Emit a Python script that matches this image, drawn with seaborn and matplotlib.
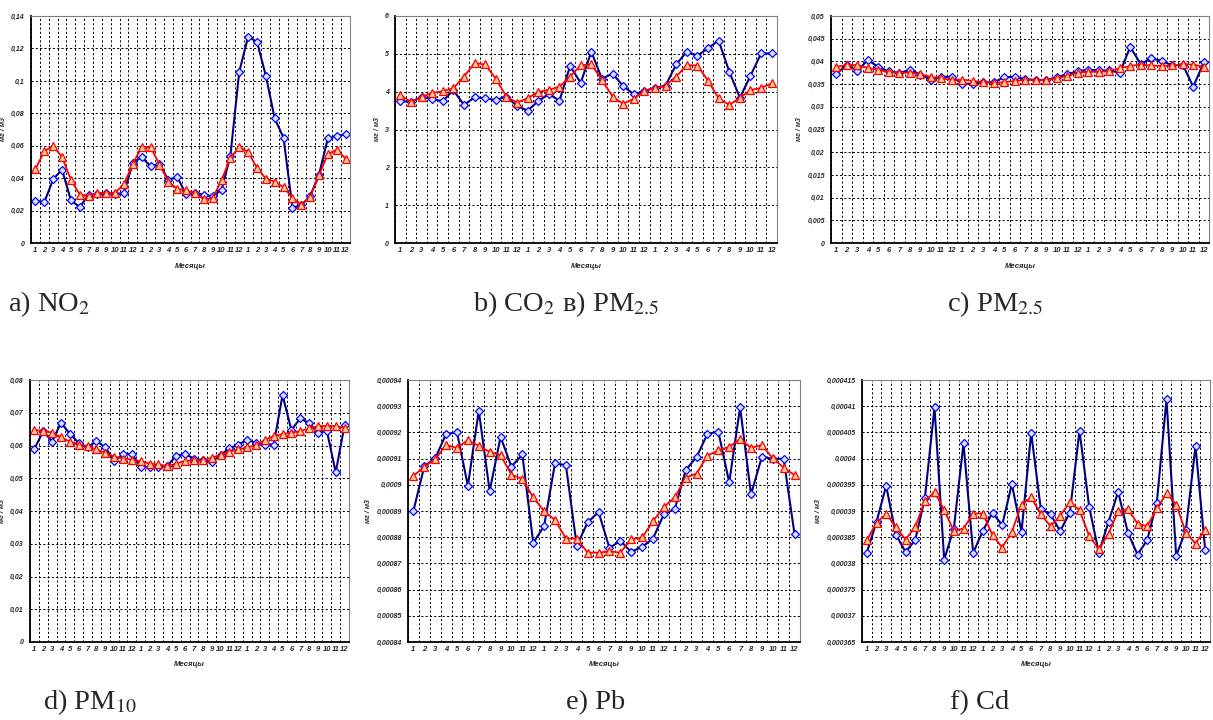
import matplotlib
matplotlib.use("Agg")
import matplotlib.pyplot as plt
import seaborn as sns
import numpy as np
import pandas as pd
from matplotlib.ticker import FuncFormatter

# month labels along the x axis (three years)
months = [str(m) for m in range(1, 13)] * 3

# measured (blue) and smoothed (red) concentrations, mg/m3
no2_obs = [0.0261, 0.0251, 0.0393, 0.0453, 0.0264, 0.0222, 0.0296, 0.0300, 0.0310, 0.0300, 0.0310, 0.0496,
           0.0529, 0.0474, 0.0486, 0.0390, 0.0408, 0.0300, 0.0310, 0.0296, 0.0288, 0.0327, 0.0537, 0.1056,
           0.1272, 0.1241, 0.1033, 0.0768, 0.0649, 0.0218, 0.0233, 0.0288, 0.0422, 0.0645, 0.0660, 0.0670]
no2_fit = [0.0455, 0.0566, 0.0599, 0.0531, 0.0389, 0.0299, 0.0288, 0.0309, 0.0309, 0.0309, 0.0364, 0.0490,
           0.0593, 0.0591, 0.0484, 0.0379, 0.0334, 0.0325, 0.0309, 0.0270, 0.0276, 0.0387, 0.0525, 0.0593,
           0.0562, 0.0463, 0.0397, 0.0379, 0.0344, 0.0280, 0.0237, 0.0284, 0.0418, 0.0548, 0.0576, 0.0521]

co2_obs = [3.75, 3.73, 3.86, 3.80, 3.75, 4.04, 3.65, 3.85, 3.82, 3.78, 3.87, 3.62,
           3.50, 3.75, 3.94, 3.76, 4.68, 4.23, 5.06, 4.34, 4.48, 4.15, 3.93, 4.02,
           4.10, 4.16, 4.72, 5.06, 4.95, 5.15, 5.35, 4.53, 3.84, 4.42, 5.01, 5.01]
co2_fit = [3.91, 3.73, 3.86, 3.97, 4.01, 4.09, 4.40, 4.75, 4.72, 4.34, 3.87, 3.71,
           3.83, 3.99, 4.05, 4.13, 4.40, 4.70, 4.72, 4.31, 3.87, 3.68, 3.81, 4.02,
           4.10, 4.16, 4.40, 4.70, 4.69, 4.29, 3.82, 3.65, 3.84, 4.04, 4.10, 4.22]

pm25_obs = [0.0372, 0.0393, 0.0379, 0.0403, 0.0388, 0.0378, 0.0374, 0.0382, 0.0371, 0.0360, 0.0366, 0.0366,
            0.0351, 0.0351, 0.0354, 0.0354, 0.0365, 0.0366, 0.0361, 0.0359, 0.0359, 0.0365, 0.0372, 0.0378,
            0.0382, 0.0380, 0.0380, 0.0375, 0.0432, 0.0394, 0.0407, 0.0401, 0.0391, 0.0393, 0.0344, 0.0398]
pm25_fit = [0.0388, 0.0392, 0.0392, 0.0386, 0.0381, 0.0377, 0.0375, 0.0375, 0.0372, 0.0366, 0.0363, 0.0359,
            0.0360, 0.0357, 0.0354, 0.0353, 0.0354, 0.0357, 0.0359, 0.0359, 0.0359, 0.0363, 0.0368, 0.0375,
            0.0377, 0.0377, 0.0379, 0.0385, 0.0390, 0.0393, 0.0391, 0.0390, 0.0391, 0.0394, 0.0393, 0.0388]

pm10_obs = [0.0590, 0.0644, 0.0612, 0.0670, 0.0635, 0.0608, 0.0594, 0.0614, 0.0594, 0.0553, 0.0573, 0.0574,
            0.0535, 0.0533, 0.0535, 0.0538, 0.0569, 0.0574, 0.0560, 0.0555, 0.0550, 0.0571, 0.0591, 0.0603,
            0.0617, 0.0608, 0.0603, 0.0603, 0.0754, 0.0647, 0.0683, 0.0668, 0.0639, 0.0645, 0.0518, 0.0662]
pm10_fit = [0.0647, 0.0645, 0.0639, 0.0625, 0.0612, 0.0603, 0.0598, 0.0588, 0.0578, 0.0566, 0.0560, 0.0557,
            0.0552, 0.0545, 0.0542, 0.0537, 0.0545, 0.0553, 0.0555, 0.0555, 0.0563, 0.0571, 0.0581, 0.0588,
            0.0594, 0.0601, 0.0617, 0.0629, 0.0635, 0.0639, 0.0644, 0.0652, 0.0659, 0.0660, 0.0659, 0.0654]

pb_obs = [0.0008901, 0.0009071, 0.0009101, 0.0009194, 0.0009200, 0.0008996, 0.0009283, 0.0008976, 0.0009183,
          0.0009069, 0.0009116, 0.0008778, 0.0008843, 0.0009082, 0.0009075, 0.0008767, 0.0008857, 0.0008896,
          0.0008759, 0.0008786, 0.0008744, 0.0008763, 0.0008795, 0.0008888, 0.0008907, 0.0009056, 0.0009106,
          0.0009194, 0.0009203, 0.0009009, 0.0009296, 0.0008963, 0.0009107, 0.0009099, 0.0009099, 0.0008811]
pb_fit = [0.0009034, 0.0009069, 0.0009098, 0.0009152, 0.0009141, 0.0009171, 0.0009148, 0.0009126, 0.0009113,
          0.0009039, 0.0009022, 0.0008952, 0.0008899, 0.0008866, 0.0008795, 0.0008795, 0.0008741, 0.0008741,
          0.0008746, 0.0008741, 0.0008792, 0.0008799, 0.0008861, 0.0008916, 0.0008952, 0.0009027, 0.0009043,
          0.0009111, 0.0009132, 0.0009145, 0.0009175, 0.0009141, 0.0009152, 0.0009101, 0.0009066, 0.0009037]

cd_obs = [0.00038207, 0.00038793, 0.00039481, 0.00038551, 0.00038220, 0.00038443, 0.00039239, 0.00040978,
          0.00038073, 0.00038666, 0.00040290, 0.00038201, 0.00038621, 0.00038971, 0.00038729, 0.00039513,
          0.00038602, 0.00040494, 0.00039035, 0.00038939, 0.00038615, 0.00038971, 0.00040532, 0.00039080,
          0.00038201, 0.00038793, 0.00039366, 0.00038589, 0.00038169, 0.00038443, 0.00039162, 0.00041131,
          0.00038143, 0.00038634, 0.00040239, 0.00038264]
cd_fit = [0.00038443, 0.00038780, 0.00038939, 0.00038697, 0.00038455, 0.00038697, 0.00039188, 0.00039366,
          0.00039016, 0.00038621, 0.00038666, 0.00038952, 0.00038952, 0.00038538, 0.00038303, 0.00038602,
          0.00039124, 0.00039258, 0.00038939, 0.00038710, 0.00038908, 0.00039175, 0.00039016, 0.00038525,
          0.00038271, 0.00038570, 0.00038997, 0.00039035, 0.00038761, 0.00038710, 0.00039048, 0.00039334,
          0.00039124, 0.00038589, 0.00038379, 0.00038646]

sns.set_style("white")
plt.rcParams["font.family"] = ["Liberation Sans", "DejaVu Sans"]
plt.rcParams["mathtext.fontset"] = "stix"

W, H = 1213, 720
fig = plt.figure(figsize=(W / 100, H / 100), dpi=100)


def comma(v, pos):
    s = f"{v:.6f}".rstrip("0").rstrip(".")
    return s.replace(".", ",")


def panel(box, obs, fit, ymin, ymax, step):
    l, r, t, b = box
    ax = fig.add_axes([l / W, 1 - b / H, (r - l) / W, (b - t) / H])
    n = len(obs)
    df = pd.DataFrame({"x": np.arange(n), "obs": obs, "fit": fit})
    sns.lineplot(data=df, x="x", y="obs", ax=ax, color="#000080", linewidth=1.5,
                 marker="D", markersize=3.8, markerfacecolor="#D8E4FF", mec="#0000FF", mew=0.9)
    sns.lineplot(data=df, x="x", y="fit", ax=ax, color="#FF0000", linewidth=1.3,
                 marker="^", markersize=5.3, markerfacecolor="#FFCC99", mec="#FF0000", mew=0.9)
    ax.set_xlim(-0.5, n - 0.5)
    ax.set_ylim(ymin, ymax)
    ax.set_yticks(np.linspace(ymin, ymax, int(round((ymax - ymin) / step)) + 1))
    ax.yaxis.set_major_formatter(FuncFormatter(comma))
    ax.set_xticks(np.arange(n))
    ax.set_xticklabels(months)
    ax.set_xticks(np.arange(-0.5, n, 1), minor=True)
    ax.tick_params(axis="x", which="major", length=0, pad=3, labelsize=5.5)
    ax.tick_params(axis="x", which="minor", length=3, direction="inout", width=0.8, color="k")
    ax.tick_params(axis="y", which="major", length=3, direction="out", width=0.8, color="k",
                   pad=1.5, labelsize=5)
    for lbl in ax.get_xticklabels() + ax.get_yticklabels():
        lbl.set_fontweight("bold")
        lbl.set_fontstyle("italic")
    ax.grid(False)
    ax.grid(which="minor", axis="x", color="k", linestyle=(0, (2.2, 2.2)), linewidth=0.7)
    ax.grid(which="major", axis="y", color="k", linestyle=(0, (2.2, 2.2)), linewidth=0.7)
    for side in ["left", "bottom"]:
        ax.spines[side].set_color("k")
        ax.spines[side].set_linewidth(1.3)
    for side in ["top", "right"]:
        ax.spines[side].set_color("#808080")
        ax.spines[side].set_linewidth(0.8)
    ax.set_xlabel("Месяцы", fontsize=5.5, fontweight="bold", fontstyle="italic", labelpad=6)
    ax.set_ylabel("мг / м3", fontsize=5, fontweight="bold", fontstyle="italic", labelpad=3)
    return ax


panel((31, 350, 16, 243), no2_obs, no2_fit, 0, 0.14, 0.02)
panel((395, 777, 16, 243), co2_obs, co2_fit, 0, 6, 1)
panel((831, 1209, 16, 243), pm25_obs, pm25_fit, 0, 0.05, 0.005)
panel((30, 349, 380, 642), pm10_obs, pm10_fit, 0, 0.08, 0.01)
panel((408, 800, 380, 642), pb_obs, pb_fit, 0.00084, 0.00094, 0.00001)
panel((862, 1210, 380, 642), cd_obs, cd_fit, 0.000365, 0.000415, 0.000005)

captions = [
    (8, 311, "a) NO$_2$"),
    (473, 311, "b) CO$_2$ в) PM$_{2.5}$"),
    (947, 311, "c) PM$_{2.5}$"),
    (43, 709, "d) PM$_{10}$"),
    (566, 709, "e) Pb"),
    (950, 709, "f) Cd"),
]
for x, y, txt in captions:
    fig.text(x / W, 1 - y / H, txt, fontsize=20.5, family="Liberation Serif", va="baseline", ha="left")

fig.savefig("out.png", dpi=100)
